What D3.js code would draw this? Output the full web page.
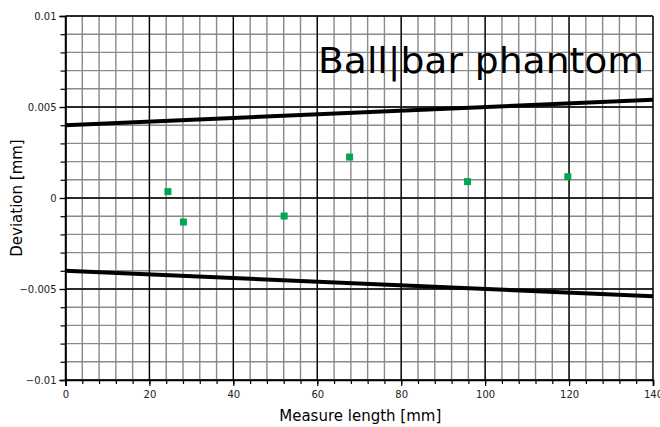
<!DOCTYPE html>
<html>
<head>
<meta charset="utf-8">
<script src="https://cdn.jsdelivr.net/npm/d3@7"></script>
<style>
  body { margin: 0; background: #fff; }
  text { font-family: "DejaVu Sans", "Noto Sans", sans-serif; }
</style>
</head>
<body>
<div id="chart"></div>
<script>
// measured points
var lengths = [24.4, 28.1, 52.1, 67.7, 95.8, 119.7];
var deviations = [0.00035, -0.00132, -0.00099, 0.00225, 0.0009, 0.00117];

// tolerance limits (start / end)
var limitX = [0, 140];
var upperLimit = [0.004, 0.0054];
var lowerLimit = [-0.004, -0.0054];

var xTicks = [0, 20, 40, 60, 80, 100, 120, 140];
var yTicks = [-0.01, -0.005, 0, 0.005, 0.01];

function init() {
    var margin = { top: 16, right: 7, bottom: 47, left: 65.5 },
        width = 660 - margin.left - margin.right,
        height = 427 - margin.top - margin.bottom;

    var svg = d3.select("#chart")
        .append("svg")
        .attr("width", 660)
        .attr("height", 427)
        .append("g")
        .attr("transform", "translate(" + margin.left + "," + margin.top + ")");

    var x = d3.scaleLinear().domain([0, 140]).range([0, width]);
    var y = d3.scaleLinear().domain([-0.01, 0.01]).range([height, 0]);

    var minorX = d3.range(0, 141, 4);
    var minorY = d3.range(-10, 11, 1).map(d => d / 1000);

    // minor grid
    svg.append("g").selectAll("line")
        .data(minorX)
        .enter().append("line")
        .attr("x1", d => x(d)).attr("x2", d => x(d))
        .attr("y1", 0).attr("y2", height)
        .style("stroke", "#8a8a8a").style("stroke-width", 1.4);
    svg.append("g").selectAll("line")
        .data(minorY)
        .enter().append("line")
        .attr("x1", 0).attr("x2", width)
        .attr("y1", d => y(d)).attr("y2", d => y(d))
        .style("stroke", "#8a8a8a").style("stroke-width", 1.4);

    // major grid
    svg.append("g").selectAll("line")
        .data(xTicks)
        .enter().append("line")
        .attr("x1", d => x(d)).attr("x2", d => x(d))
        .attr("y1", 0).attr("y2", height)
        .style("stroke", "#000").style("stroke-width", 1.3);
    svg.append("g").selectAll("line")
        .data(yTicks)
        .enter().append("line")
        .attr("x1", 0).attr("x2", width)
        .attr("y1", d => y(d)).attr("y2", d => y(d))
        .style("stroke", "#000").style("stroke-width", 1.3);

    // axes
    svg.append("g")
        .attr("transform", "translate(0," + height + ")")
        .call(d3.axisBottom(x).tickValues(xTicks).tickSize(6).tickPadding(5));
    svg.append("g")
        .attr("transform", "translate(0," + height + ")")
        .call(d3.axisBottom(x).tickValues(minorX).tickSize(4).tickFormat(""))
        .select(".domain").remove();

    svg.append("g")
        .call(d3.axisLeft(y).tickValues(yTicks).tickSize(6).tickPadding(3)
            .tickFormat(d => d === 0 ? "0" : d3.format("")(+d.toFixed(3))));
    svg.append("g")
        .call(d3.axisLeft(y).tickValues(minorY).tickSize(5).tickFormat(""))
        .select(".domain").remove();

    svg.selectAll(".domain").style("stroke-width", 1.6);
    svg.selectAll(".tick line").style("stroke-width", 1.2);
    svg.selectAll(".tick text")
        .style("font-size", "10px")
        .style("fill", "#222");

    // tolerance limits
    var line = d3.line().x(d => x(d[0])).y(d => y(d[1]));
    [upperLimit, lowerLimit].forEach(function (lim) {
        svg.append("path")
            .datum(limitX.map((v, i) => [v, lim[i]]))
            .attr("d", line)
            .style("fill", "none")
            .style("stroke", "#000")
            .style("stroke-width", 4);
    });

    // points
    svg.append("g").selectAll("rect")
        .data(lengths.map((v, i) => [v, deviations[i]]))
        .enter().append("rect")
        .attr("x", d => x(d[0]) - 3.5)
        .attr("y", d => y(d[1]) - 3.5)
        .attr("width", 7).attr("height", 7)
        .style("fill", "#00a651");

    // title
    svg.append("text")
        .attr("x", x(140) - 9)
        .attr("y", y(0.00687))
        .attr("text-anchor", "end")
        .attr("textLength", 326)
        .attr("lengthAdjust", "spacingAndGlyphs")
        .style("font-size", "36px")
        .style("fill", "#000")
        .text("Ball|bar phantom");

    svg.append("text")
        .attr("x", width / 2 + 1)
        .attr("y", height + 41)
        .attr("text-anchor", "middle")
        .style("font-size", "15px")
        .text("Measure length [mm]");

    svg.append("text")
        .attr("transform", "translate(-44," + (height / 2) + ") rotate(-90)")
        .attr("text-anchor", "middle")
        .style("font-size", "15px")
        .text("Deviation [mm]");
}

window.onload = init;
</script>
</body>
</html>
